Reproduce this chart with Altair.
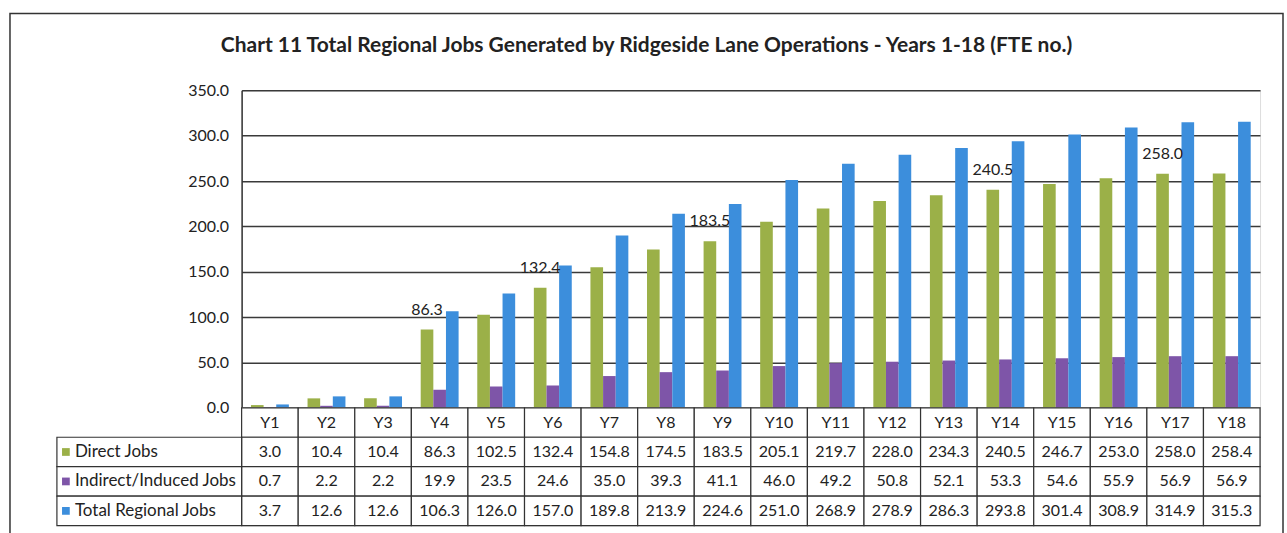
import altair as alt
import pandas as pd

years = ["Y1", "Y2", "Y3", "Y4", "Y5", "Y6", "Y7", "Y8", "Y9", "Y10",
         "Y11", "Y12", "Y13", "Y14", "Y15", "Y16", "Y17", "Y18"]
series = ["Direct Jobs", "Indirect/Induced Jobs", "Total Regional Jobs"]
colors = ["#9BB048", "#7E55A8", "#3C8EDC"]

direct = [3.0, 10.4, 10.4, 86.3, 102.5, 132.4, 154.8, 174.5, 183.5, 205.1,
          219.7, 228.0, 234.3, 240.5, 246.7, 253.0, 258.0, 258.4]
indirect = [0.7, 2.2, 2.2, 19.9, 23.5, 24.6, 35.0, 39.3, 41.1, 46.0,
            49.2, 50.8, 52.1, 53.3, 54.6, 55.9, 56.9, 56.9]
total = [3.7, 12.6, 12.6, 106.3, 126.0, 157.0, 189.8, 213.9, 224.6, 251.0,
         268.9, 278.9, 286.3, 293.8, 301.4, 308.9, 314.9, 315.3]
label_years = ["Y4", "Y6", "Y9", "Y14", "Y17"]
y_ticks = [0, 50, 100, 150, 200, 250, 300, 350]

FONT = "Lato"
header_key = "Year"
rows_order = [header_key] + series

records = []
for s, vals in zip(series, [direct, indirect, total]):
    for yr, v in zip(years, vals):
        records.append({"year": yr, "series": s, "value": v})
df = pd.DataFrame(records)

trecs = []
for yr in years:
    trecs.append({"year": yr, "row": header_key, "text": yr})
for s, vals in zip(series, [direct, indirect, total]):
    for yr, v in zip(years, vals):
        trecs.append({"year": yr, "row": s, "text": f"{v:.1f}"})
tdf = pd.DataFrame(trecs)
ldf = pd.DataFrame({"row": series, "series": series})

color_scale = alt.Scale(domain=series, range=colors)

xb = alt.X("year:N", sort=years,
           scale=alt.Scale(paddingInner=0.33, paddingOuter=0.165), axis=None)
xo = alt.XOffset("series:N", sort=series, scale=alt.Scale(paddingInner=0))
yq = alt.Y("value:Q", scale=alt.Scale(domain=[0, 350], nice=False),
           axis=alt.Axis(values=y_ticks, format=".1f", title=None, ticks=False,
                         labelPadding=13, labelFontSize=16, labelFont=FONT,
                         labelColor="#222", domainColor="#333", domainWidth=1.5,
                         gridColor="#3a3a3a", gridWidth=1.5))

bars = alt.Chart(df).mark_bar().encode(
    x=xb, xOffset=xo, y=yq,
    color=alt.Color("series:N", scale=color_scale, legend=None),
)
labels = alt.Chart(df).transform_filter(
    alt.FieldOneOfPredicate(field="year", oneOf=label_years)
).transform_filter(
    alt.FieldEqualPredicate(field="series", equal=series[0])
).mark_text(baseline="bottom", dy=-12, fontSize=16, font=FONT, color="#222").encode(
    x=xb, xOffset=xo, y=yq, text=alt.Text("value:Q", format=".1f")
)
frame = alt.Chart(pd.DataFrame({"f": [0]})).mark_rect(
    fill="white", fillOpacity=0, stroke="#333", strokeWidth=1.5
).encode(x=alt.value(-232), x2=alt.value(1043), y=alt.value(-77), y2=alt.value(470))
top = alt.layer(frame, bars, labels).properties(width=1020, height=318)

xt = alt.X("year:N", sort=years, scale=alt.Scale(paddingInner=0, paddingOuter=0), axis=None)
yt = alt.Y("row:N", sort=rows_order, scale=alt.Scale(domain=rows_order, paddingInner=0, paddingOuter=0), axis=None)

cells = alt.Chart(tdf).mark_rect(fill="white", stroke="#333", strokeWidth=1.2).encode(x=xt, y=yt)
ctext = alt.Chart(tdf).mark_text(fontSize=16, font=FONT, color="#222").encode(x=xt, y=yt, text="text:N")
lrect = alt.Chart(ldf).mark_rect(fill="white", stroke="#333", strokeWidth=1.2).encode(
    x=alt.value(-185), x2=alt.value(0), y=yt)
lsq = alt.Chart(ldf).mark_square(size=60, opacity=1).encode(
    x=alt.value(-176), y=yt, color=alt.Color("series:N", scale=color_scale, legend=None))
ltext = alt.Chart(ldf).mark_text(align="left", fontSize=17, font=FONT, color="#222").encode(
    x=alt.value(-167), y=yt, text="row:N")
table = alt.layer(cells, ctext, lrect, lsq, ltext).properties(width=1020, height=118)

chart = alt.vconcat(top, table, spacing=0, bounds="flush").properties(
    title=alt.TitleParams(
        "Chart 11 Total Regional Jobs Generated by Ridgeside Lane  Operations - Years 1-18 (FTE no.)",
        fontSize=21, font=FONT, fontWeight="bold", color="#222", anchor="middle",
        offset=-44),
    padding={"left": 8, "top": 11, "right": 2, "bottom": 0},
).configure_view(stroke=None).configure(background="white")

chart.save("out.html", embed_options={"renderer": "svg", "actions": False})
